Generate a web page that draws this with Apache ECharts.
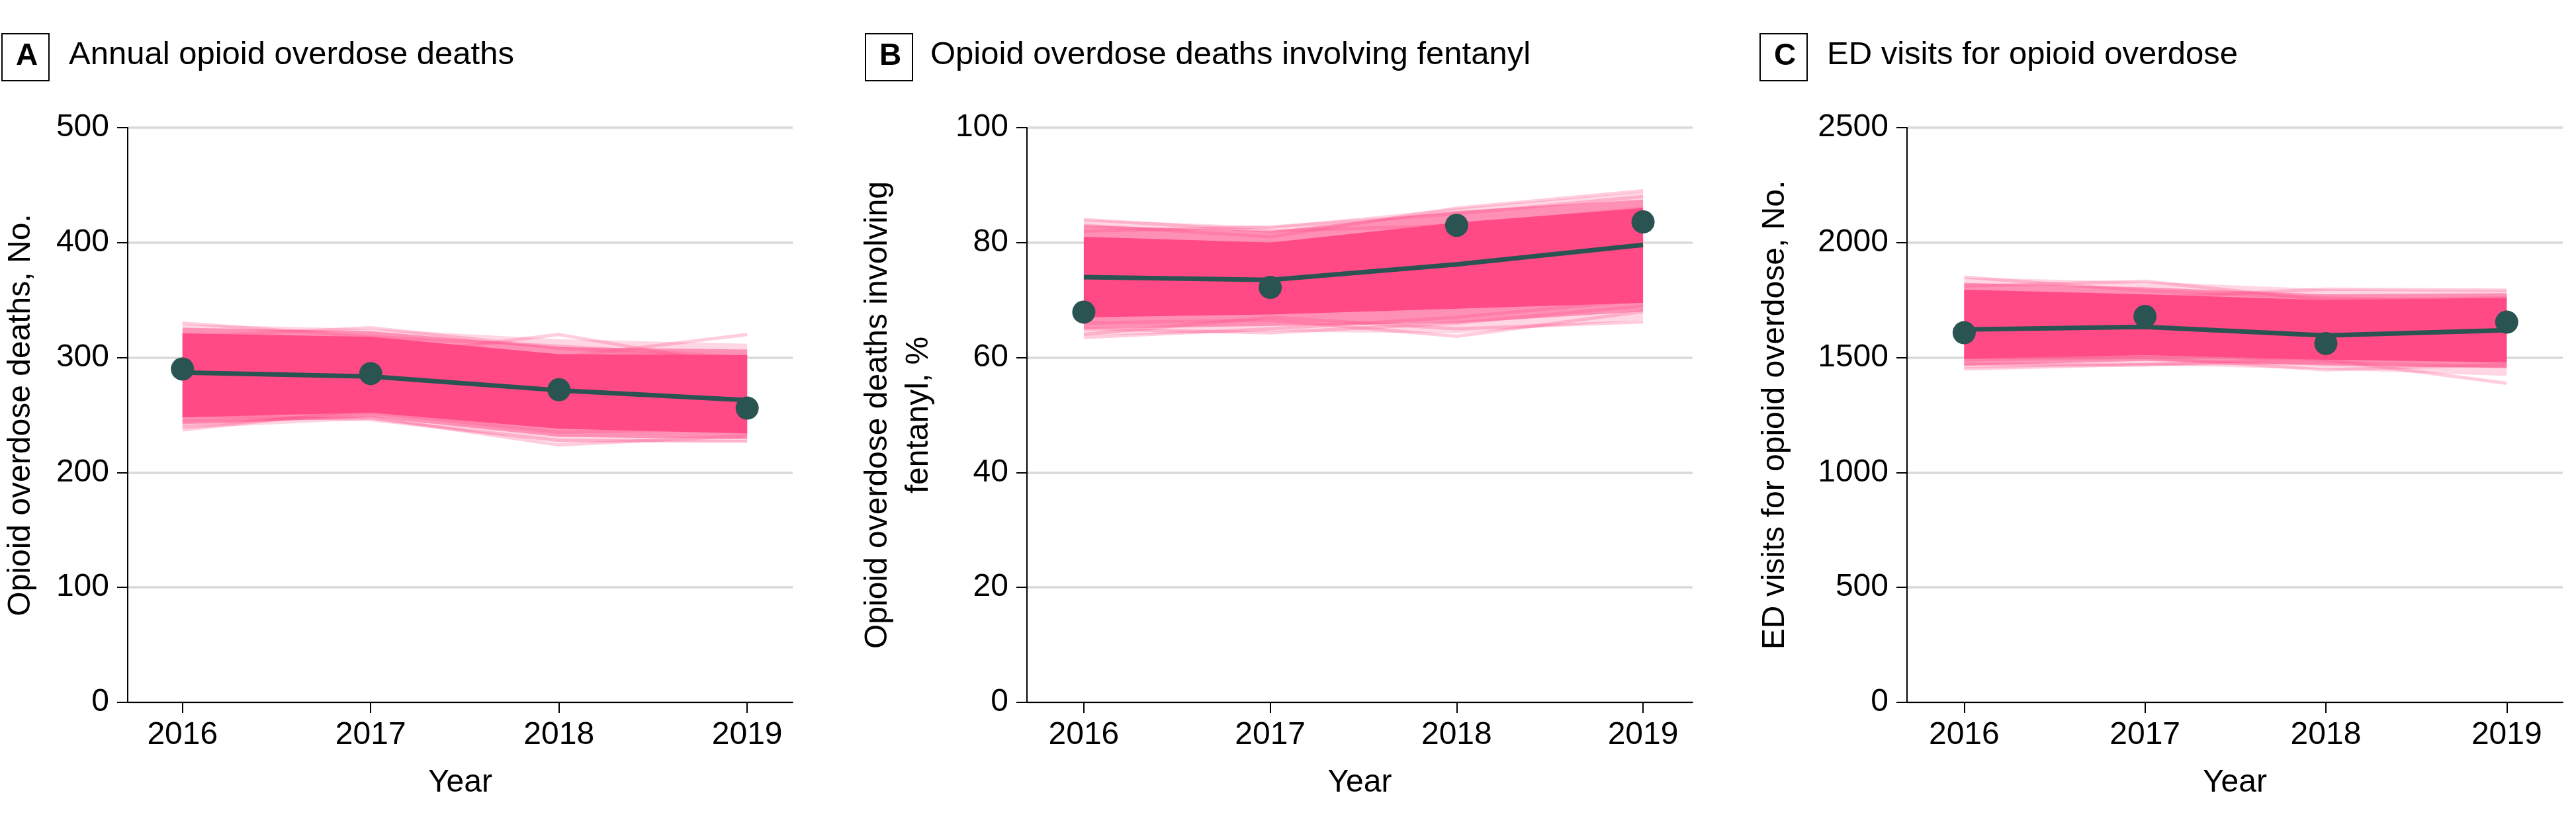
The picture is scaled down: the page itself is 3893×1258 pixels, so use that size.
<!DOCTYPE html>
<html>
<head>
<meta charset="utf-8">
<script src="https://cdn.jsdelivr.net/npm/echarts@6/dist/echarts.min.js"></script>
<style>
html,body{margin:0;padding:0;background:#fff;}
#chart{width:3893px;height:1258px;}
</style>
</head>
<body>
<div id="chart"></div>
<script>
// ---------- data ----------
const years = [2016, 2017, 2018, 2019];
const xTickLabels = ['2016', '2017', '2018', '2019'];

const panelLetters = ['A', 'B', 'C'];
const panelTitles = ['Annual opioid overdose deaths', 'Opioid overdose deaths involving fentanyl', 'ED visits for opioid overdose'];
const yAxisNames = ['Opioid overdose deaths, No.', 'Opioid overdose deaths involving\nfentanyl, %', 'ED visits for opioid overdose, No.'];
const yTicksA = [0, 100, 200, 300, 400, 500];
const yTicksB = [0, 20, 40, 60, 80, 100];
const yTicksC = [0, 500, 1000, 1500, 2000, 2500];

// Panel A
const aObserved = [290, 286, 272, 256];
const aModel = [287, 283.5, 271.5, 263];
const aCoreLow = [248, 252, 238, 234];
const aCoreHigh = [321, 318, 303, 302];
const aMidLow = [242, 248, 231, 229];
const aMidHigh = [326, 323, 309, 307];
const aOuterLow = [238, 246, 226, 227];
const aOuterHigh = [329, 325, 316, 312];
const aSims = [
  [330, 318, 310, 300],
  [318, 326, 308, 298],
  [305, 300, 320, 292],
  [296, 298, 300, 320],
  [237, 255, 240, 235],
  [245, 248, 224, 232],
  [250, 246, 228, 227],
  [240, 252, 235, 238]
];

// Panel B
const bObserved = [67.9, 72.2, 83.0, 83.6];
const bModel = [74.0, 73.5, 76.2, 79.6];
const bCoreLow = [67.0, 67.5, 68.5, 69.5];
const bCoreHigh = [81.0, 80.0, 83.5, 86.0];
const bMidLow = [65.0, 65.5, 66.0, 68.0];
const bMidHigh = [83.0, 82.0, 85.5, 87.5];
const bOuterLow = [63.8, 64.5, 64.2, 66.5];
const bOuterHigh = [84.0, 82.8, 86.0, 88.8];
const bSims = [
  [84.0, 82.0, 83.0, 86.0],
  [83.0, 81.0, 86.0, 89.0],
  [82.0, 82.7, 85.0, 88.0],
  [63.5, 65.0, 67.0, 70.0],
  [65.0, 64.3, 66.0, 69.0],
  [66.0, 66.5, 63.7, 68.0],
  [64.0, 67.0, 65.0, 66.2]
];

// Panel C
const cObserved = [1608, 1679, 1561, 1654];
const cModel = [1622, 1633, 1596, 1619];
const cCoreLow = [1495, 1510, 1490, 1480];
const cCoreHigh = [1795, 1775, 1750, 1760];
const cMidLow = [1465, 1485, 1465, 1455];
const cMidHigh = [1825, 1805, 1775, 1780];
const cOuterLow = [1452, 1468, 1448, 1420];
const cOuterHigh = [1848, 1830, 1798, 1792];
const cSims = [
  [1850, 1790, 1760, 1740],
  [1810, 1832, 1750, 1760],
  [1780, 1760, 1797, 1793],
  [1451, 1470, 1480, 1460],
  [1470, 1467, 1500, 1480],
  [1490, 1500, 1446, 1470],
  [1500, 1510, 1490, 1388]
];

// ---------- styling / layout ----------
const FONT = '"Liberation Sans", Arial, sans-serif';
const PINK = '#FF4A86';
const DARK = '#2A5452';
const grids = [
  {left: 191, top: 193, width: 1007, height: 869},
  {left: 1552, top: 193, width: 1006, height: 869},
  {left: 2882, top: 193, width: 991, height: 869}
];
const xRanges = [[2015.709, 2019.242], [2015.695, 2019.266], [2015.684, 2019.31]];
const yNameGaps = [130, 132, 168];
const boxX = [2, 1307, 2659];
const titleX = [104, 1406, 2761];

const panels = [
  {obs: aObserved, model: aModel, coreLow: aCoreLow, coreHigh: aCoreHigh, midLow: aMidLow, midHigh: aMidHigh, outerLow: aOuterLow, outerHigh: aOuterHigh, sims: aSims, ticks: yTicksA},
  {obs: bObserved, model: bModel, coreLow: bCoreLow, coreHigh: bCoreHigh, midLow: bMidLow, midHigh: bMidHigh, outerLow: bOuterLow, outerHigh: bOuterHigh, sims: bSims, ticks: yTicksB},
  {obs: cObserved, model: cModel, coreLow: cCoreLow, coreHigh: cCoreHigh, midLow: cMidLow, midHigh: cMidHigh, outerLow: cOuterLow, outerHigh: cOuterHigh, sims: cSims, ticks: yTicksC}
];

const xAxes = [], yAxes = [], series = [], graphics = [];
const pts = arr => years.map((x, i) => [x, arr[i]]);

// band drawn as a polygon through the axes' own coordinate mapping
function bandSeries(k, lo, hi, opacity) {
  return {
    type: 'custom', xAxisIndex: k, yAxisIndex: k, silent: true,
    data: years.map((x, i) => [x, lo[i], hi[i]]),
    encode: {x: 0, y: [1, 2]},
    renderItem: function (params, api) {
      if (params.dataIndex !== 0) return null;
      const upper = years.map((x, i) => api.coord([x, hi[i]]));
      const lower = years.map((x, i) => api.coord([x, lo[i]])).reverse();
      return {
        type: 'polygon',
        shape: {points: upper.concat(lower)},
        style: {fill: PINK, opacity: opacity}
      };
    }
  };
}

panels.forEach((p, k) => {
  xAxes.push({
    type: 'value', gridIndex: k, min: xRanges[k][0], max: xRanges[k][1],
    name: 'Year', nameLocation: 'middle', nameGap: 98,
    nameTextStyle: {fontFamily: FONT, fontSize: 48, color: '#000'},
    axisLine: {show: true, lineStyle: {color: '#000', width: 2}},
    axisTick: {show: true, length: 16, lineStyle: {color: '#000', width: 2}, customValues: years},
    axisLabel: {fontFamily: FONT, fontSize: 48, color: '#000', margin: 26, customValues: years,
      formatter: v => xTickLabels[years.indexOf(Math.round(v))] || ''},
    splitLine: {show: false}
  });
  const t = p.ticks;
  yAxes.push({
    type: 'value', gridIndex: k, min: t[0], max: t[t.length - 1], interval: t[1] - t[0],
    name: yAxisNames[k], nameLocation: 'middle', nameGap: yNameGaps[k],
    nameTextStyle: {fontFamily: FONT, fontSize: 48, color: '#000', lineHeight: 62, align: 'center'},
    axisLine: {show: true, lineStyle: {color: '#000', width: 2}},
    axisTick: {show: true, length: 16, lineStyle: {color: '#000', width: 2}},
    axisLabel: {fontFamily: FONT, fontSize: 48, color: '#000', margin: 28, formatter: v => String(v)},
    splitLine: {show: true, lineStyle: {color: '#d9d9d9', width: 3.5}}
  });

  // pale simulation lines
  p.sims.forEach(s => series.push({
    type: 'line', xAxisIndex: k, yAxisIndex: k, data: pts(s), symbol: 'none', silent: true,
    lineStyle: {color: PINK, width: 5, opacity: 0.28}
  }));
  // outer, mid-density and dense core bands
  series.push(bandSeries(k, p.outerLow, p.outerHigh, 0.22));
  series.push(bandSeries(k, p.midLow, p.midHigh, 0.5));
  series.push(bandSeries(k, p.coreLow, p.coreHigh, 1));
  // model line
  series.push({type: 'line', xAxisIndex: k, yAxisIndex: k, data: pts(p.model), symbol: 'none',
    lineStyle: {color: DARK, width: 7}, z: 5});
  // observed points
  series.push({type: 'scatter', xAxisIndex: k, yAxisIndex: k, data: pts(p.obs), symbolSize: 35,
    itemStyle: {color: DARK, opacity: 1}, z: 6});

  // panel heading
  graphics.push({type: 'rect', left: boxX[k], top: 50, shape: {width: 71, height: 71},
    style: {fill: '#fff', stroke: '#000', lineWidth: 2}});
  graphics.push({type: 'text', left: boxX[k] + 22, top: 62,
    style: {text: panelLetters[k], font: 'bold 46px ' + FONT, fill: '#000'}});
  graphics.push({type: 'text', left: titleX[k], top: 59,
    style: {text: panelTitles[k], font: '49px ' + FONT, fill: '#000'}});
});

const chart = echarts.init(document.getElementById('chart'), null, {renderer: 'canvas'});
chart.setOption({
  animation: false,
  backgroundColor: '#fff',
  grid: grids,
  xAxis: xAxes,
  yAxis: yAxes,
  series: series,
  graphic: graphics
});
</script>
</body>
</html>
